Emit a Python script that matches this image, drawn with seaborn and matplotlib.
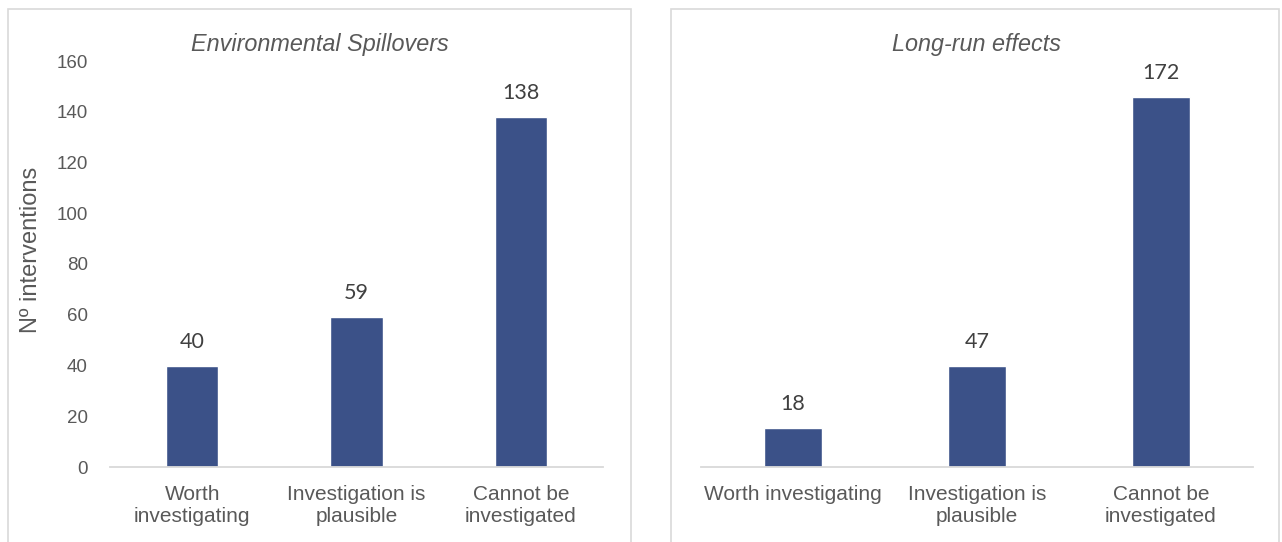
import matplotlib
matplotlib.use("Agg")
import matplotlib.pyplot as plt
import seaborn as sns
import pandas as pd
from matplotlib.patches import Rectangle

categories = ["Worth\ninvestigating", "Investigation is\nplausible", "Cannot be\ninvestigated"]
categories_right = ["Worth investigating", "Investigation is\nplausible", "Cannot be\ninvestigated"]
spillover_values = [40, 59, 138]
longrun_values = [18, 47, 172]
left_title = "Environmental Spillovers"
right_title = "Long-run effects"
y_label = "Nº interventions"
y_ticks = [0, 20, 40, 60, 80, 100, 120, 140, 160]

sns.set_theme(style="white")
plt.rcParams['font.family'] = ['Liberation Sans', 'DejaVu Sans']

BAR = "#3B5188"
TXT = "#595959"
GRID = "#D9D9D9"

fig = plt.figure(figsize=(12.82, 5.42), dpi=100)
W, H = 1282, 542

def fx(x): return x / W
def fy(y): return 1 - y / H

# panel borders
fig.patches.append(Rectangle((fx(8), fy(560)), fx(631 - 8), fy(9) - fy(560),
                             transform=fig.transFigure, fill=False, edgecolor=GRID, lw=1.2))
fig.patches.append(Rectangle((fx(671), fy(560)), fx(1279 - 671), fy(9) - fy(560),
                             transform=fig.transFigure, fill=False, edgecolor=GRID, lw=1.2))

axL = fig.add_axes([fx(110), fy(467), fx(603 - 110), fy(61) - fy(467)])
axR = fig.add_axes([fx(701), fy(467), fx(1253 - 701), fy(61) - fy(467)])

dfL = pd.DataFrame({"cat": categories, "val": spillover_values})
dfR = pd.DataFrame({"cat": categories_right, "val": longrun_values})

sns.barplot(data=dfL, x="cat", y="val", color=BAR, width=0.32, ax=axL, saturation=1)
sns.barplot(data=dfR, x="cat", y="val", color=BAR, width=0.32, ax=axR, saturation=1)

axL.set_ylim(0, 160)
axL.set_yticks(y_ticks)
axR.set_ylim(0, 188.5)
axR.set_yticks([])

for ax, vals in ((axL, spillover_values), (axR, longrun_values)):
    ax.set_facecolor("none")
    ax.set_xlabel("")
    ax.set_ylabel("")
    for s in ("top", "right", "left"):
        ax.spines[s].set_visible(False)
    ax.spines["bottom"].set_color(GRID)
    ax.spines["bottom"].set_linewidth(1.3)
    ax.tick_params(axis="x", length=0, pad=13, labelsize=15, labelcolor=TXT)
    ax.tick_params(axis="y", length=0, pad=16, labelsize=13.5, labelcolor=TXT)
    for c in ax.containers:
        ax.bar_label(c, labels=[str(v) for v in vals], padding=10,
                     fontsize=15.5, color="#404040", family=["Lato", "DejaVu Sans"])

axL.set_ylabel(y_label, fontsize=17, color=TXT)
axL.yaxis.set_label_coords(-0.138, 0.535)

fig.text(fx(320), fy(44), left_title, fontsize=16.8, style="italic", color=TXT,
         ha="center", va="center")
fig.text(fx(977), fy(44), right_title, fontsize=16.8, style="italic", color=TXT,
         ha="center", va="center")

fig.savefig("out.png", dpi=100)
